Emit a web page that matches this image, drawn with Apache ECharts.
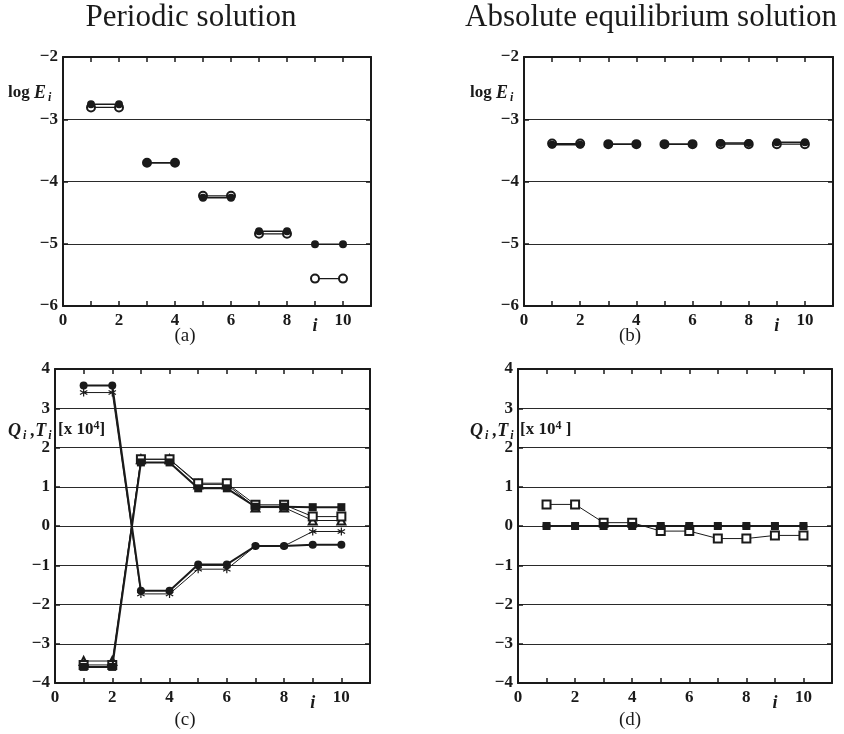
<!DOCTYPE html>
<html><head><meta charset="utf-8">
<script src="https://cdn.jsdelivr.net/npm/echarts@6/dist/echarts.min.js"></script>
<style>html,body{margin:0;padding:0;background:#fff}#c{width:844px;height:734px}</style>
</head><body><div id="c"></div>
<script>
const idx = [1,2,3,4,5,6,7,8,9,10];
const xTicks = [0,2,4,6,8,10];
const yTicksE = [-6,-5,-4,-3,-2];
const yTicksQ = [-4,-3,-2,-1,0,1,2,3,4];
// (a) Periodic solution, log E_i
const aFilled = [-2.76,-2.76,-3.70,-3.70,-4.26,-4.26,-4.80,-4.80,-5.01,-5.01];
const aOpen   = [-2.81,-2.81,-3.70,-3.70,-4.23,-4.23,-4.84,-4.84,-5.56,-5.56];
// (b) Absolute equilibrium solution, log E_i
const bFilled = [-3.41,-3.41,-3.40,-3.40,-3.40,-3.40,-3.38,-3.38,-3.37,-3.37];
const bOpen   = [-3.39,-3.39,-3.40,-3.40,-3.40,-3.40,-3.40,-3.40,-3.40,-3.40];
// (c) Periodic solution, Q_i, T_i [x 10^4]
const cCircle   = [3.58,3.58,-1.65,-1.65,-0.98,-0.98,-0.51,-0.51,-0.48,-0.48];
const cStar     = [3.40,3.40,-1.73,-1.73,-1.10,-1.10,-0.51,-0.51,-0.14,-0.14];
const cFSquare  = [-3.59,-3.59,1.62,1.62,0.96,0.96,0.49,0.49,0.48,0.48];
const cOSquare  = [-3.54,-3.54,1.70,1.70,1.09,1.09,0.54,0.54,0.24,0.24];
const cTriangle = [-3.44,-3.44,1.70,1.70,1.06,1.06,0.47,0.47,0.14,0.14];
// (d) Absolute equilibrium solution, Q_i, T_i [x 10^4]
const dCircle   = [0,0,0,0,0,0,0,0,0,0];
const dFSquare  = [0,0,0,0,0,0,0,0,0,0];
const dOSquare  = [0.55,0.55,0.085,0.085,-0.13,-0.13,-0.32,-0.32,-0.24,-0.24];

const SERIF = '"Liberation Serif","Times New Roman",serif';
const INK = '#1a1a1a';
const STAR = 'path://M4.3,0L5.7,0L5.7,10L4.3,10Z M0.32,3.106L1.02,1.894L9.68,6.894L8.98,8.106Z M1.02,8.106L0.32,6.894L8.98,1.894L9.68,3.106Z';

const grids = [
  {left:63, top:57, width:308, height:249},
  {left:524, top:57, width:309, height:249},
  {left:55, top:369, width:315, height:314},
  {left:518, top:369, width:314, height:314}
];
const yRange = [[-6,-2],[-6,-2],[-4,4],[-4,4]];

function fmtNum(v){ return v < 0 ? '\u2212' + Math.abs(v) : String(v); }

const xAxis = [], yAxis = [];
grids.forEach((g, k) => {
  xAxis.push({
    type:'value', gridIndex:k, min:0, max:11, interval:1, position:'bottom',
    axisLine:{show:true, onZero:false, lineStyle:{color:INK, width:2}},
    axisTick:{show:true, inside:true, length:5, lineStyle:{color:INK, width:1.5}},
    splitLine:{show:false},
    axisLabel:{show:true, margin:6, fontFamily:SERIF, fontWeight:'bold', fontSize:17, color:INK,
      showMinLabel:true, showMaxLabel:true,
      formatter: v => (v === 9 ? '{it|i}' : (xTicks.indexOf(v) >= 0 ? String(v) : '')),
      rich:{it:{fontFamily:SERIF, fontStyle:'italic', fontWeight:'bold', fontSize:18, color:INK, padding:[5,0,0,0]}}}
  });
  xAxis.push({
    type:'value', gridIndex:k, min:0, max:11, interval:1, position:'top',
    axisLine:{show:true, onZero:false, lineStyle:{color:INK, width:2}},
    axisTick:{show:true, inside:true, length:5, lineStyle:{color:INK, width:1.5}},
    splitLine:{show:false}, axisLabel:{show:false}
  });
  const ticks = k < 2 ? yTicksE : yTicksQ;
  yAxis.push({
    type:'value', gridIndex:k, min:yRange[k][0], max:yRange[k][1], interval:1, position:'left',
    axisLine:{show:true, onZero:false, lineStyle:{color:INK, width:2}},
    axisTick:{show:true, inside:true, length:5, lineStyle:{color:INK, width:1.5}},
    splitLine:{show:true, lineStyle:{color:'#2a2a2a', width:1.2}},
    axisLabel:{show:true, margin:5, fontFamily:SERIF, fontWeight:'bold', fontSize:17, color:INK,
      showMinLabel:true, showMaxLabel:true,
      formatter: v => (ticks.indexOf(v) >= 0 ? fmtNum(v) : '')}
  });
  yAxis.push({
    type:'value', gridIndex:k, min:yRange[k][0], max:yRange[k][1], interval:1, position:'right',
    axisLine:{show:true, onZero:false, lineStyle:{color:INK, width:2}},
    axisTick:{show:true, inside:true, length:5, lineStyle:{color:INK, width:1.5}},
    splitLine:{show:false}, axisLabel:{show:false}
  });
});

function pairData(vals){
  const out = [];
  idx.forEach((x, k) => {
    out.push([x, vals[k]]);
    if (k % 2 === 1 && k < idx.length - 1) out.push([x + 0.5, '-']);
  });
  return out;
}
function fullData(vals){ return idx.map((x, k) => [x, vals[k]]); }

function mk(k, data, symbol, size, filled, lw, z){
  return {
    type:'line', xAxisIndex:2*k, yAxisIndex:2*k, data:data,
    symbol:symbol, symbolSize:size, showSymbol:true, connectNulls:false, animation:false, z:z||2,
    lineStyle:{color:INK, width:lw},
    itemStyle:{color:INK, borderColor:INK, borderWidth: filled ? 0 : 1.2},
    emphasis:{disabled:true}
  };
}

const series = [
  mk(0, pairData(aOpen), 'emptyCircle', 8, false, 1.2, 2),
  mk(0, pairData(aFilled), 'circle', 8, true, 1.5, 3),
  mk(1, pairData(bOpen), 'emptyCircle', 8, false, 1.2, 2),
  mk(1, pairData(bFilled), 'circle', 8, true, 1.5, 3),
  mk(2, fullData(cTriangle), 'emptyTriangle', 8, false, 1, 2),
  mk(2, fullData(cOSquare), 'emptyRect', 8, false, 1, 3),
  mk(2, fullData(cFSquare), 'rect', 8, true, 2, 4),
  mk(2, fullData(cStar), STAR, 8, true, 1, 2),
  mk(2, fullData(cCircle), 'circle', 8, true, 2, 4),
  mk(3, fullData(dOSquare), 'emptyRect', 8, false, 1, 2),
  mk(3, fullData(dCircle), 'circle', 8, true, 2, 3),
  mk(3, fullData(dFSquare), 'rect', 8, true, 2, 4)
];

const richLabel = {
  b:{fontFamily:SERIF, fontWeight:'bold', fontSize:17, fill:INK},
  bi:{fontFamily:SERIF, fontWeight:'bold', fontStyle:'italic', fontSize:18, fill:INK},
  sub:{fontFamily:SERIF, fontWeight:'bold', fontStyle:'italic', fontSize:12, fill:INK, padding:[9,0,0,2]},
  sup:{fontFamily:SERIF, fontWeight:'bold', fontSize:12, fill:INK, padding:[0,0,9,0]}
};
function txt(x, y, text, style){
  return {type:'text', x:x, y:y, silent:true, style:Object.assign({text:text, fill:INK, fontFamily:SERIF}, style)};
}
const graphic = [
  txt(191, 18, 'Periodic solution', {fontSize:31, align:'center', verticalAlign:'middle'}),
  txt(651, 18, 'Absolute equilibrium solution', {fontSize:31, align:'center', verticalAlign:'middle'}),
  txt(8, 93, '{b|log }{bi|E}{sub|i}', {rich:richLabel, verticalAlign:'middle'}),
  txt(470, 93, '{b|log }{bi|E}{sub|i}', {rich:richLabel, verticalAlign:'middle'}),
  txt(8, 431, '{bi|Q}{sub|i}{bi| ,T}{sub|i}', {rich:richLabel, verticalAlign:'middle'}),
  txt(58, 430, '{b|[x 10}{sup|4}{b|]}', {rich:richLabel, verticalAlign:'middle'}),
  txt(470, 431, '{bi|Q}{sub|i}{bi| ,T}{sub|i}', {rich:richLabel, verticalAlign:'middle'}),
  txt(520, 430, '{b|[x 10}{sup|4}{b| ]}', {rich:richLabel, verticalAlign:'middle'}),
  txt(185, 336, '(a)', {fontSize:19, align:'center', verticalAlign:'middle'}),
  txt(630, 336, '(b)', {fontSize:19, align:'center', verticalAlign:'middle'}),
  txt(185, 720, '(c)', {fontSize:19, align:'center', verticalAlign:'middle'}),
  txt(630, 720, '(d)', {fontSize:19, align:'center', verticalAlign:'middle'})
];

const chart = echarts.init(document.getElementById('c'), null, {renderer:'canvas'});
chart.setOption({
  animation:false,
  backgroundColor:'#ffffff',
  grid:grids, xAxis:xAxis, yAxis:yAxis, series:series, graphic:graphic
});
</script>
</body></html>
